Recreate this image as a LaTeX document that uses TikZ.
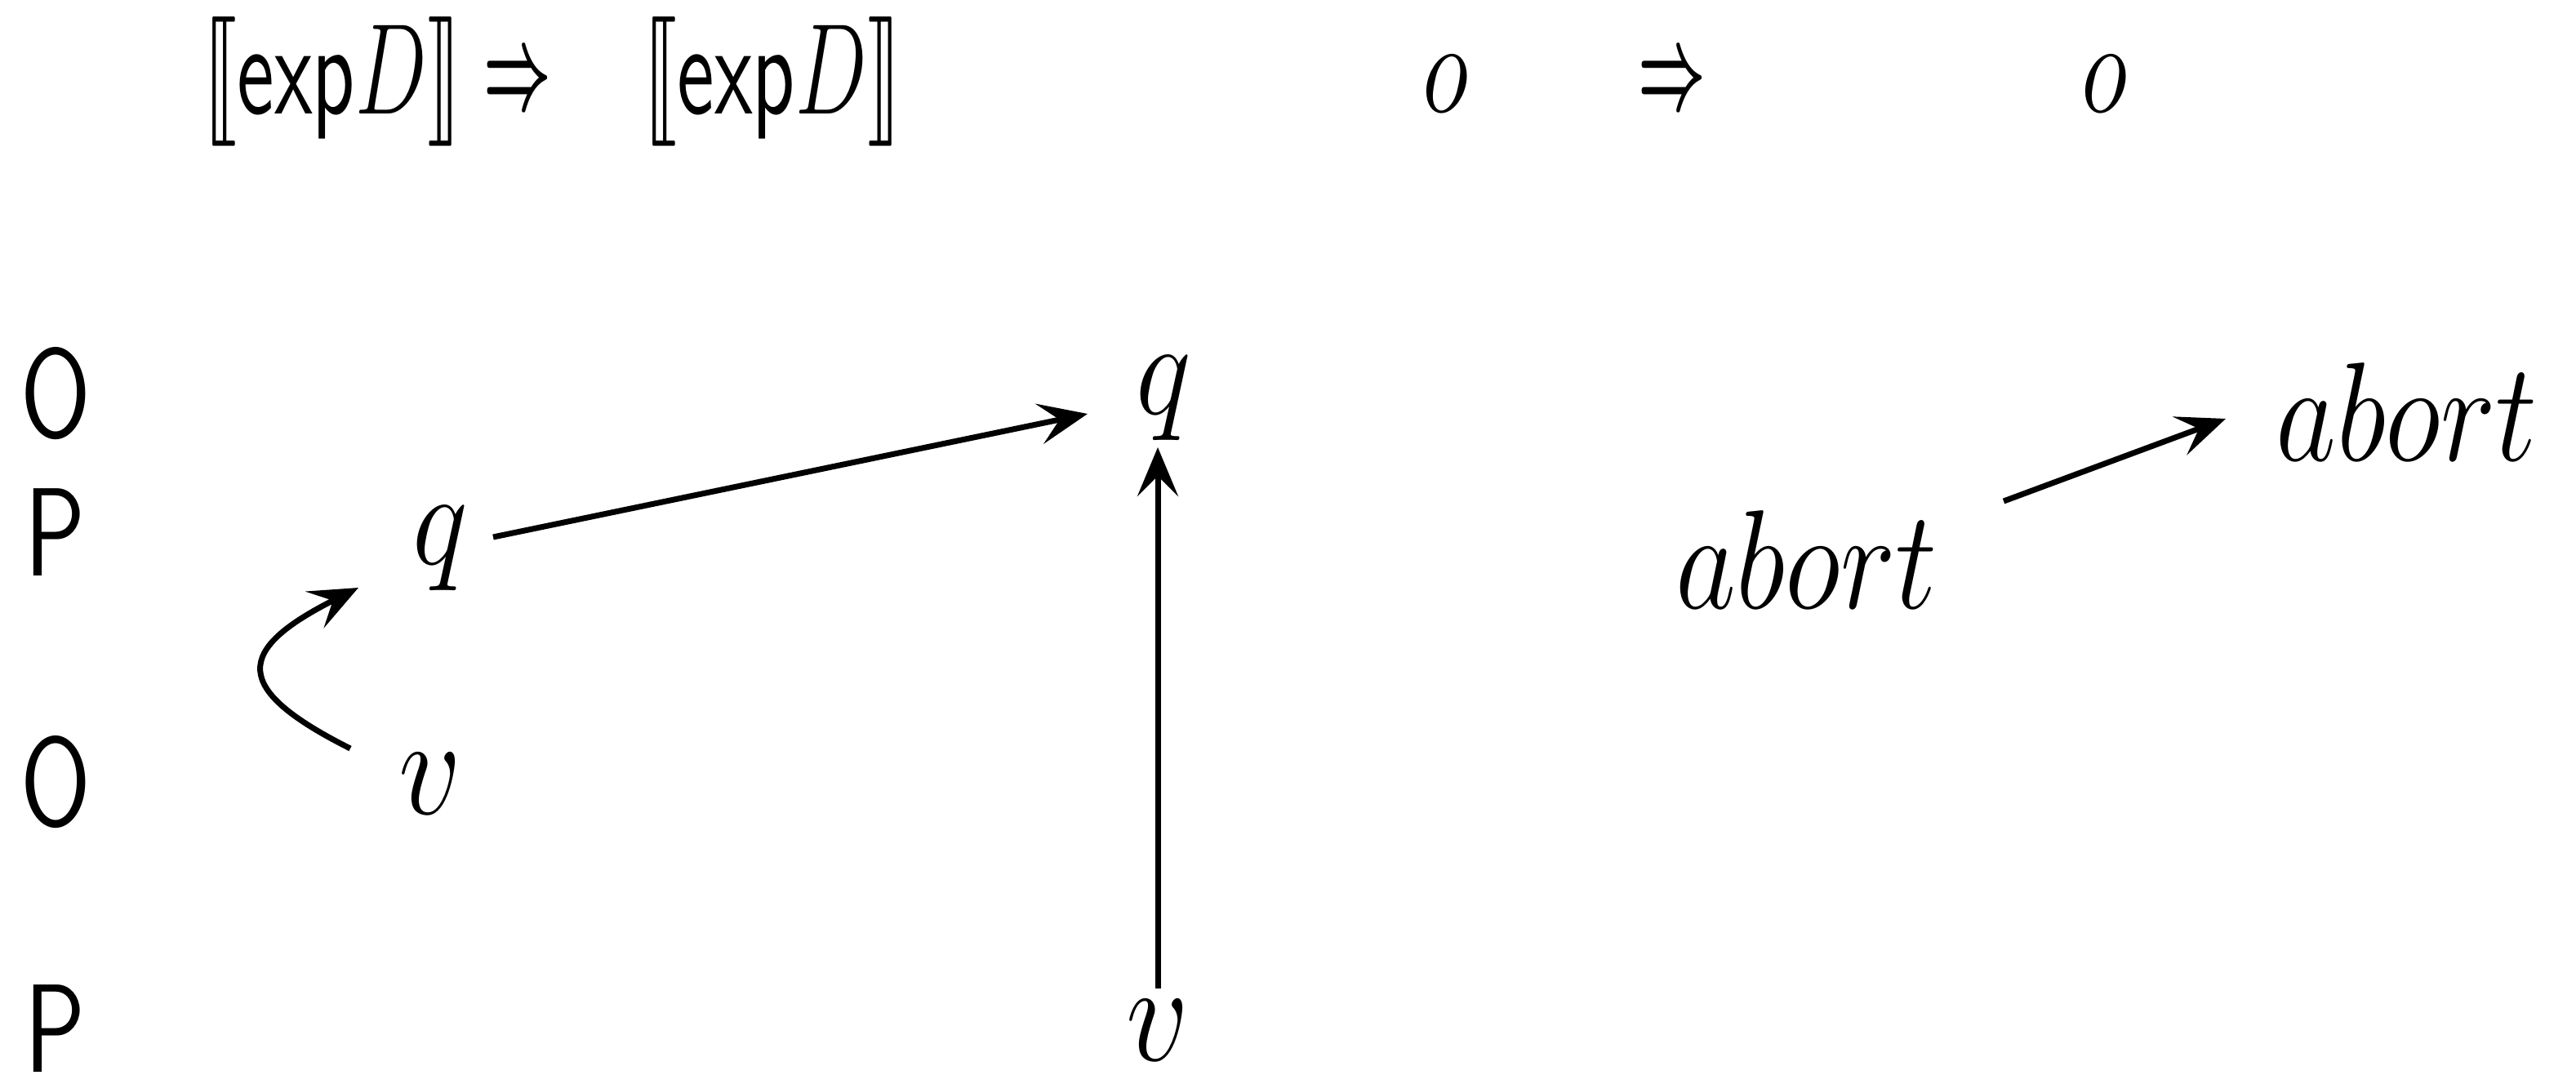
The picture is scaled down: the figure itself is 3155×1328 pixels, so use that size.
\documentclass[tikz,border=0pt]{standalone}
\usepackage{stmaryrd}
\usepackage{graphicx}
\usetikzlibrary{arrows.meta}
\newcommand{\sbx}[3]{\scalebox{#1}[#2]{#3}}
\begin{document}
\begin{tikzpicture}[x=0.1pt,y=-0.1pt,
  every node/.style={inner sep=0pt, font=\fontsize{14}{17}\selectfont},
  arr/.style={line width=0.7pt, -{Stealth[length=6pt,width=5pt,inset=2.5pt]}}]
\useasboundingbox (0,0) rectangle (3155,1328);
% header
\node (h1) at (407,100) {\sbx{0.725}{1.1}{$\llbracket\mathsf{exp}D\rrbracket$}};
\node (i1) at (634,103) {\sbx{0.5}{1}{\boldmath$\Rightarrow$}};
\node (h2) at (946,100) {\sbx{0.725}{1.1}{$\llbracket\mathsf{exp}D\rrbracket$}};
\node (o1) at (1771,103) {\sbx{0.83}{1.12}{$o$}};
\node (i2) at (2048,103) {\sbx{0.5}{1}{\boldmath$\Rightarrow$}};
\node (o2) at (2578,103) {\sbx{0.83}{1.12}{$o$}};
% row labels
\node (r1) at (68,482) {\sbx{0.85}{1.1}{\sffamily O}};
\node (r2) at (68,652) {\sbx{0.85}{1.1}{\sffamily P}};
\node (r3) at (68,958) {\sbx{0.85}{1.1}{\sffamily O}};
\node (r4) at (68,1260) {\sbx{0.85}{1.1}{\sffamily P}};
% moves
\node (q2) at (539,672) {\sbx{1}{1.15}{$q$}};
\node (v3) at (527,960) {\sbx{1.05}{1.2}{$v$}};
\node (q1) at (1425,488) {\sbx{1}{1.15}{$q$}};
\node (v4) at (1418,1262) {\sbx{1.05}{1.2}{$v$}};
\node (a2) at (2213,686) {\sbx{1}{1.2}{$abort$}};
\node (a1) at (2948,505) {\sbx{1}{1.2}{$abort$}};
% arrows
\draw[arr] ([shift={(65,-14)}]q2.center) -- ([shift={(-93,19)}]q1.center);
\draw[arr] ([shift={(0,-51)}]v4.center) -- ([shift={(-7,60)}]q1.center);
\draw[arr] ([shift={(-98,-43)}]v3.center) .. controls +(-145,-73) and +(-153,77) .. ([shift={(-100,48)}]q2.center);
\draw[arr] ([shift={(241,-72)}]a2.center) -- ([shift={(-222,8)}]a1.center);
\end{tikzpicture}
\end{document}
